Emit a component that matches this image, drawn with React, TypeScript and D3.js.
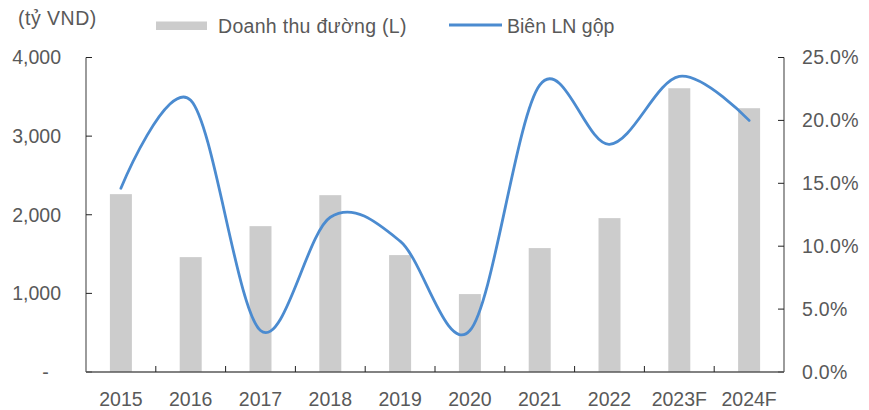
import React from "react";
import * as d3 from "d3";

const categories = ["2015", "2016", "2017", "2018", "2019", "2020", "2021", "2022", "2023F", "2024F"];
const revenue = [2262, 1461, 1855, 2249, 1487, 991, 1576, 1957, 3609, 3355];
const margin = [0.146, 0.216, 0.033, 0.123, 0.104, 0.033, 0.228, 0.181, 0.235, 0.2];
const leftTicks = [0, 1000, 2000, 3000, 4000];
const rightTicks = [0, 0.05, 0.1, 0.15, 0.2, 0.25];
const barLabel = "Doanh thu đường (L)";
const lineLabel = "Biên LN gộp";
const unitLabel = "(tỷ VND)";

const W = 869;
const H = 410;
const FONT = "'Liberation Sans', Arial, sans-serif";
const FS = 19.5;
const TEXT = "#595959";
const BAR = "#cccccc";
const LINE = "#4b8bd0";

export default function App() {
  const x = d3.scaleBand<string>().domain(categories).range([86, 784]).paddingInner(0.685).paddingOuter(0.3425);
  const step = x.step();
  const yL = d3.scaleLinear().domain([0, 4000]).range([372, 57.5]);
  const yR = d3.scaleLinear().domain([0, 0.25]).range([372, 57.5]);
  const fmtL = (v: number) => (v === 0 ? "-" : d3.format(",")(v));
  const fmtR = d3.format(".1%");

  const line = d3
    .line<number>()
    .x((_, i) => (x(categories[i]) as number) + x.bandwidth() / 2)
    .y((d) => yR(d))
    .curve(d3.curveCardinal.tension(0));

  const x0 = x.range()[0];
  const x1 = x.range()[1];

  return (
    <svg width={W} height={H} style={{ position: "absolute", left: 0, top: 0, background: "#fff" }} fontFamily={FONT}>
      {/* bars */}
      {revenue.map((v, i) => (
        <rect
          key={categories[i]}
          x={x(categories[i])}
          y={yL(v)}
          width={x.bandwidth()}
          height={yL(0) - yL(v)}
          fill={BAR}
        />
      ))}
      {/* line */}
      <path d={line(margin) || ""} fill="none" stroke={LINE} strokeWidth={2.8} strokeLinecap="round" />

      {/* left axis */}
      <line x1={x0} x2={x0} y1={yL(4000)} y2={yL(0)} stroke="#595959" strokeWidth={1.2} />
      {leftTicks.map((t) => (
        <g key={t}>
          <line x1={x0} x2={x0 + 6} y1={yL(t)} y2={yL(t)} stroke="#222" strokeWidth={1} />
          <text
            x={t === 0 ? 45.5 : 61}
            y={yL(t)}
            dy="0.35em"
            textAnchor={t === 0 ? "middle" : "end"}
            fontSize={FS}
            fill={TEXT}
          >
            {fmtL(t)}
          </text>
        </g>
      ))}

      {/* right axis */}
      <line x1={x1} x2={x1} y1={yR(0.25)} y2={yR(0)} stroke="#595959" strokeWidth={1.2} />
      {rightTicks.map((t) => (
        <g key={t}>
          <line x1={x1 - 6} x2={x1} y1={yR(t)} y2={yR(t)} stroke="#222" strokeWidth={1} />
          <text x={802} y={yR(t)} dy="0.35em" textAnchor="start" fontSize={FS} fill={TEXT} letterSpacing={0.3}>
            {fmtR(t)}
          </text>
        </g>
      ))}

      {/* bottom axis */}
      <line x1={x0} x2={x1} y1={yL(0)} y2={yL(0)} stroke="#595959" strokeWidth={1.6} />
      {categories.map((c, i) =>
        i > 0 ? (
          <line
            key={"t" + c}
            x1={x0 + step * i}
            x2={x0 + step * i}
            y1={yL(0) - 6}
            y2={yL(0)}
            stroke="#222"
            strokeWidth={1}
          />
        ) : null
      )}
      {categories.map((c) => (
        <text
          key={"l" + c}
          x={(x(c) as number) + x.bandwidth() / 2}
          y={399}
          dy="0.35em"
          textAnchor="middle"
          fontSize={FS}
          fill={TEXT}
        >
          {c}
        </text>
      ))}

      {/* unit label */}
      <text x={18} y={18} dy="0.35em" fontSize={FS} fill={TEXT} letterSpacing={0.5}>
        {unitLabel}
      </text>

      {/* legend */}
      <rect x={156} y={21.5} width={51} height={8.5} fill={BAR} />
      <text x={218} y={26} dy="0.35em" fontSize={FS} fill={TEXT} letterSpacing={0.3}>
        {barLabel}
      </text>
      <line x1={449} x2={502} y1={25} y2={25} stroke={LINE} strokeWidth={2.8} />
      <text x={507} y={26} dy="0.35em" fontSize={FS} fill={TEXT}>
        {lineLabel}
      </text>
    </svg>
  );
}
